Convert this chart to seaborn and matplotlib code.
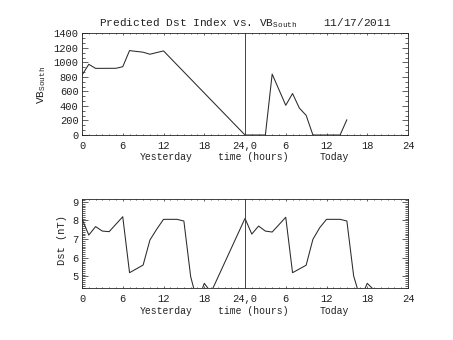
import matplotlib
matplotlib.use("Agg")
import matplotlib.pyplot as plt
import matplotlib.transforms as mtransforms
from matplotlib.ticker import MultipleLocator, FixedLocator, FixedFormatter
import seaborn as sns
import pandas as pd

# Hours run 0..48: yesterday 0-24, today 24-48
vb_hours = [0, 1, 2, 5, 6, 7, 9, 10, 12, 24, 25, 26, 27, 28, 30, 31, 32, 33, 34,
            35, 36, 37, 38, 39]
vb_south = [826, 975, 919, 920, 942, 1164, 1142, 1114, 1160, 0, 0, 0, 0, 840, 410,
            572, 372, 271, 0, 0, 0, 0, 0, 211]

dst_hours = [0, 1, 2, 3, 4, 6, 7, 9, 10, 11, 12, 14, 15, 16, 17, 18, 19, 24,
             25, 26, 27, 28, 30, 31, 33, 34, 35, 36, 38, 39, 40, 41, 42, 43]
dst_vals = [8.08, 7.22, 7.67, 7.43, 7.40, 8.20, 5.20, 5.61, 6.95, 7.53, 8.06, 8.06,
            7.97, 4.99, 3.60, 4.63, 4.15, 8.11,
            7.27, 7.70, 7.43, 7.38, 8.17, 5.20, 5.60, 6.99, 7.61, 8.06, 8.06, 7.97,
            5.02, 3.80, 4.63, 4.27]

x_ticks = [0, 6, 12, 18, 24, 30, 36, 42, 48]
x_ticklabels = ["0", "6", "12", "18", "24,0", "6", "12", "18", "24"]
vb_ticks = [0, 200, 400, 600, 800, 1000, 1200, 1400]
dst_ticks = [5, 6, 7, 8, 9]
title_text = r"Predicted Dst Index vs. VB$_{\mathregular{South}}$    11/17/2011"
day_labels = [("Yesterday", 12.4), ("time (hours)", 25.2), ("Today", 37.2)]

sns.set_theme(style="ticks")
FONT = ["Liberation Mono", "DejaVu Sans Mono"]
plt.rcParams["font.family"] = FONT
plt.rcParams["mathtext.fontset"] = "custom"
plt.rcParams["mathtext.rm"] = "Liberation Mono"
plt.rcParams["axes.linewidth"] = 0.6

W, H = 453, 340
fig = plt.figure(figsize=(W / 100, H / 100), dpi=100)
fig.patch.set_facecolor("white")

ax1 = fig.add_axes([82 / W, 1 - 135 / H, 326 / W, 101.5 / H])
ax2 = fig.add_axes([82 / W, 1 - 288 / H, 326 / W, 89 / H])

vb_df = pd.DataFrame({"hour": vb_hours, "vb": vb_south})
dst_df = pd.DataFrame({"hour": dst_hours, "dst": dst_vals})

sns.lineplot(data=vb_df, x="hour", y="vb", ax=ax1, color="#2a2a2a",
             linewidth=0.75, estimator=None, sort=True)
sns.lineplot(data=dst_df, x="hour", y="dst", ax=ax2, color="#2a2a2a",
             linewidth=0.75, estimator=None, sort=True)

ax1.set_ylim(0, 1400)
ax2.set_ylim(4.38, 9.15)
ax1.yaxis.set_major_locator(FixedLocator(vb_ticks))
ax1.yaxis.set_minor_locator(MultipleLocator(200 / 3))
ax2.yaxis.set_major_locator(FixedLocator(dst_ticks))
ax2.yaxis.set_minor_locator(MultipleLocator(0.1))

for ax in (ax1, ax2):
    ax.set_facecolor("white")
    ax.set_xlim(0, 48)
    ax.xaxis.set_major_locator(FixedLocator(x_ticks))
    ax.xaxis.set_major_formatter(FixedFormatter(x_ticklabels))
    ax.xaxis.set_minor_locator(MultipleLocator(1))
    ax.axvline(24, color="#444444", linewidth=0.7)
    ax.set_xlabel("")
    ax.set_ylabel("")
    for s in ax.spines.values():
        s.set_color("#222222")
        s.set_visible(True)
    ax.tick_params(axis="both", which="both", direction="in", top=True,
                   right=True, colors="#222222", width=0.5, labelsize=7.5)
    ax.tick_params(axis="x", which="major", length=1.6, pad=4.5)
    ax.tick_params(axis="x", which="minor", length=0.9)
    ax.tick_params(axis="y", which="major", length=4.3, pad=2.5)
    ax.tick_params(axis="y", which="minor", length=2.2)
    off = mtransforms.ScaledTranslation(0, -22.5 / 100, fig.dpi_scale_trans)
    tr = ax.get_xaxis_transform() + off
    for txt, xpos in day_labels:
        ax.text(xpos, 0, txt, transform=tr, ha="center", va="center",
                fontsize=7, color="#222222")

ax1.set_title(title_text, fontsize=8, color="#222222", pad=5)

fig.text(42 / W, 1 - 85 / H, r"VB$_{\mathregular{South}}$", rotation=90,
         ha="center", va="center", fontsize=8, color="#222222")
fig.text(62 / W, 1 - 240 / H, "Dst (nT)", rotation=90,
         ha="center", va="center", fontsize=7.5, color="#222222")

fig.savefig("out.png", dpi=100, facecolor="white")
